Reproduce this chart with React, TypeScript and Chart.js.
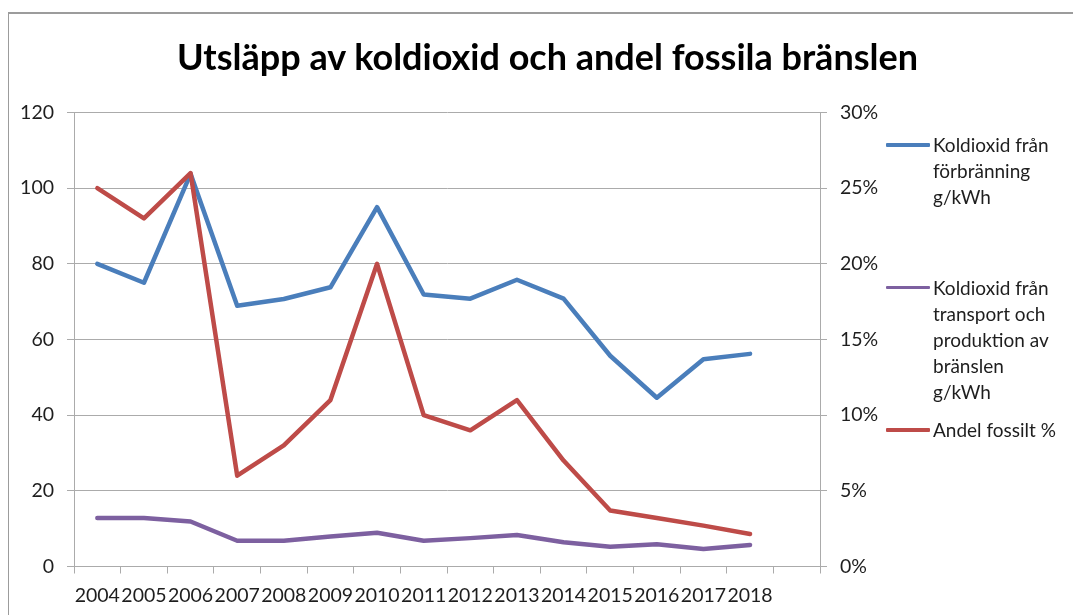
import React, { useEffect, useRef } from 'react';
import { Chart, registerables } from 'chart.js';

Chart.register(...registerables);

const chartTitle = 'Utsläpp av koldioxid och andel fossila bränslen';

// 16 category slots: the last one is an empty slot, as in the original
const years = ['2004', '2005', '2006', '2007', '2008', '2009', '2010', '2011', '2012', '2013', '2014', '2015', '2016', '2017', '2018', ''];

// g/kWh (left axis)
const co2Combustion = [80, 75, 103.8, 68.9, 70.7, 73.8, 95, 71.9, 70.8, 75.8, 70.8, 55.7, 44.6, 54.8, 56.2, null];
const co2Transport = [12.8, 12.8, 11.9, 6.8, 6.8, 7.9, 8.9, 6.8, 7.5, 8.3, 6.4, 5.2, 5.9, 4.6, 5.7, null];
// % (right axis)
const fossilShare = [25, 23, 26, 6, 8, 11, 20, 10, 9, 11, 7, 3.7, 3.2, 2.7, 2.15, null];

const seriesLabels = [
  ['Koldioxid från', 'förbränning', 'g/kWh'],
  ['Koldioxid från', 'transport och', 'produktion av', 'bränslen', 'g/kWh'],
  ['Andel fossilt %'],
];
const seriesColors = ['#4A7EBB', '#7D60A0', '#BE4B48'];

const leftMin = 0;
const leftMax = 120;
const leftStep = 20;
const rightMin = 0;
const rightMax = 30;
const rightStep = 5;

const FONT = 'Lato, "Open Sans", sans-serif';
const GRID = '#ababab';
const TEXT = '#1e1e1e';

export default function App() {
  const canvasRef = useRef<HTMLCanvasElement | null>(null);

  useEffect(() => {
    document.body.style.margin = '0';
    const canvas = canvasRef.current;
    if (!canvas) return;
    const tickFont = { family: FONT, size: 19.5 };
    const chart = new Chart(canvas, {
      type: 'line',
      data: {
        labels: years,
        datasets: [
          {
            label: seriesLabels[0].join(' '),
            data: co2Combustion,
            borderColor: seriesColors[0],
            backgroundColor: seriesColors[0],
            yAxisID: 'y',
            order: 3,
          },
          {
            label: seriesLabels[1].join(' '),
            data: co2Transport,
            borderColor: seriesColors[1],
            backgroundColor: seriesColors[1],
            yAxisID: 'y',
            order: 2,
          },
          {
            label: seriesLabels[2].join(' '),
            data: fossilShare,
            borderColor: seriesColors[2],
            backgroundColor: seriesColors[2],
            yAxisID: 'y1',
            order: 1,
          },
        ],
      },
      options: {
        animation: false,
        responsive: false,
        maintainAspectRatio: false,
        elements: {
          point: { radius: 0, hoverRadius: 0 },
          line: { borderWidth: 4.5, tension: 0, borderJoinStyle: 'round', borderCapStyle: 'round' },
        },
        layout: { padding: { top: 112.5, left: 0, right: 0, bottom: 0 } },
        plugins: {
          legend: { display: false },
          title: { display: false },
          tooltip: { enabled: false },
        },
        scales: {
          x: {
            type: 'category',
            offset: true,
            grid: { display: true, drawOnChartArea: false, offset: true, tickLength: 7, color: GRID },
            border: { display: true, color: GRID, width: 1 },
            ticks: { font: tickFont, color: TEXT, padding: 11, maxRotation: 0, autoSkip: false },
            afterFit: (s: any) => { s.height = 48.5; },
          },
          y: {
            position: 'left',
            min: leftMin,
            max: leftMax,
            grid: { color: GRID, tickLength: 7 },
            border: { display: true, color: GRID, width: 1 },
            ticks: { stepSize: leftStep, font: tickFont, color: TEXT, padding: 13 },
            afterFit: (s: any) => { s.width = 74; },
          },
          y1: {
            position: 'right',
            min: rightMin,
            max: rightMax,
            grid: { drawOnChartArea: false, color: GRID, tickLength: 7 },
            border: { display: true, color: GRID, width: 1 },
            ticks: {
              stepSize: rightStep,
              font: tickFont,
              color: TEXT,
              padding: 13,
              callback: (v: any) => `${v}%`,
            },
            afterFit: (s: any) => { s.width = 253; },
          },
        },
      },
    } as any);
    return () => chart.destroy();
  }, []);

  return (
    <div style={{ position: 'relative', width: 1073, height: 615, overflow: 'hidden', background: '#fff', fontFamily: FONT }}>
      <div
        style={{
          position: 'absolute',
          left: 8,
          top: 12,
          width: 1200,
          height: 700,
          borderTop: '2px solid #9c9c9c',
          borderLeft: '1px solid #9c9c9c',
        }}
      />
      <canvas ref={canvasRef} width={1073} height={615} style={{ position: 'absolute', left: 0, top: 0, width: 1073, height: 615 }} />
      <div
        style={{
          position: 'absolute',
          left: 547.5,
          top: 56,
          transform: 'translate(-50%, -50%)',
          whiteSpace: 'nowrap',
          fontSize: 36,
          fontWeight: 700,
          color: '#000',
          lineHeight: 1,
        }}
      >
        {chartTitle}
      </div>
      {seriesLabels.map((lines, i) => (
        <div
          key={i}
          style={{ position: 'absolute', left: 886, top: 132 + i * 142.5, display: 'flex', alignItems: 'flex-start' }}
        >
          <div style={{ width: 44, height: 3.5, background: seriesColors[i], marginTop: 11.25, marginRight: 3, borderRadius: 1 }} />
          <div style={{ fontSize: 19, lineHeight: '26px', color: TEXT }}>
            {lines.map((t, j) => (
              <div key={j}>{t}</div>
            ))}
          </div>
        </div>
      ))}
    </div>
  );
}
